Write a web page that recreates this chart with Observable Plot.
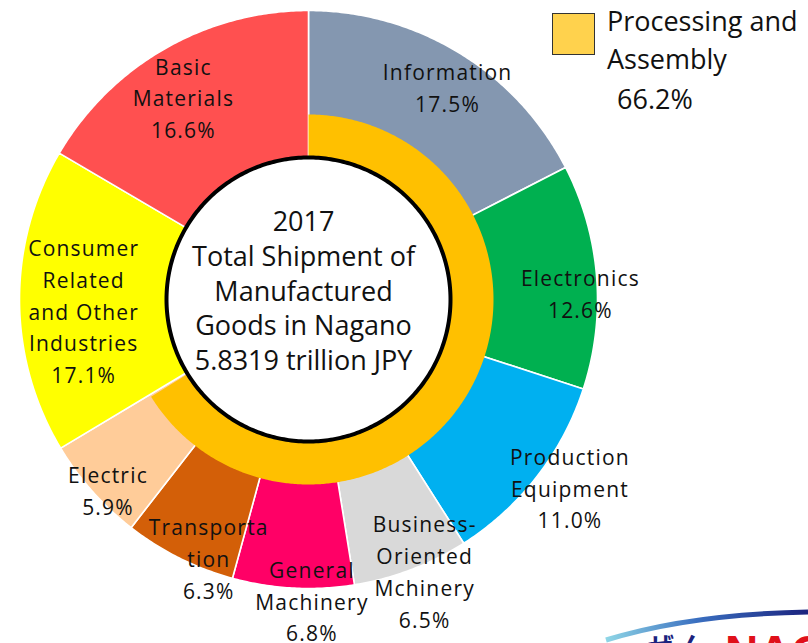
<!DOCTYPE html>
<html>
<head>
<meta charset="utf-8">
<script src="https://cdn.jsdelivr.net/npm/d3@7"></script>
<script src="https://cdn.jsdelivr.net/npm/@observablehq/plot@0.6"></script>
<style>
  html, body { margin: 0; padding: 0; background: #fff; }
  #wrap { position: relative; width: 808px; height: 643px; overflow: hidden; font-family: "Open Sans", sans-serif; }
  #legend { position: absolute; left: 0; top: 0; }
  .sw { position: absolute; left: 552px; top: 13px; width: 41px; height: 40px; background: #FFD24D; border: 1.5px solid #333; }
  .lt { position: absolute; font-size: 27px; line-height: 38px; color: #111; white-space: nowrap; }
  #logo { position: absolute; left: 600px; top: 590px; }
</style>
</head>
<body>
<div id="wrap">
  <div id="chart"></div>
  <div id="legend"></div>
  <svg id="logo" width="208" height="53"></svg>
</div>
<script>
// ---- data ----
const categories = ["Information", "Electronics", "Production Equipment", "Business-Oriented Mchinery",
  "General Machinery", "Transportation", "Electric", "Consumer Related and Other Industries", "Basic Materials"];
const shares = [17.5, 12.6, 11.0, 6.5, 6.8, 6.3, 5.9, 17.1, 16.6];
const labelLines = ["Information", "Electronics", "Production\nEquipment", "Business-\nOriented\nMchinery",
  "General\nMachinery", "Transporta\ntion", "Electric", "Consumer\nRelated\nand Other\nIndustries", "Basic\nMaterials"];
const colors = ["#8497B0", "#00B050", "#00B0F0", "#D9D9D9", "#FF0066", "#D35F08", "#FFCC99", "#FFFF00", "#FF5050"];
const processingName = "Processing and\nAssembly";
const processingShare = 66.2;
const centerLines = ["2017", "Total Shipment of", "Manufactured", "Goods in Nagano", "5.8319 trillion JPY"];

// ---- layout (pixels / fractions of outer radius) ----
const W = 808, H = 643, CX = 308, CY = 299, RPX = 289;
const R_OUT = 1, R_IN = 142 / 289, R_RING = 185 / 289;
// label placement: [radius factor, angular nudge in degrees]
const labelLayout = [[0.874, 2.0], [0.941, 3.5], [1.118, -1.8], [1.028, -2.2], [1.048, -3.7],
  [0.965, -5.6], [0.962, -2.3], [0.779, -3.0], [0.817, -2.2]];

const total = d3.sum(shares);
const toRad = d => d * Math.PI / 180;
function arcPts(a0, a1, r0, r1, key) {
  const pts = [];
  const n = Math.max(2, Math.ceil((a1 - a0) / 0.5));
  for (let i = 0; i <= n; i++) { const a = toRad(a0 + (a1 - a0) * i / n); pts.push({key, x: r1 * Math.sin(a), y: r1 * Math.cos(a)}); }
  for (let i = n; i >= 0; i--) { const a = toRad(a0 + (a1 - a0) * i / n); pts.push({key, x: r0 * Math.sin(a), y: r0 * Math.cos(a)}); }
  return pts;
}
let cum = 0;
const wedgePts = [], labels = [];
categories.forEach((c, i) => {
  const a0 = cum / total * 360; cum += shares[i]; const a1 = cum / total * 360;
  wedgePts.push(...arcPts(a0, a1, R_IN, R_OUT, c));
  const [rf, nudge] = labelLayout[i];
  const am = toRad((a0 + a1) / 2 + nudge);
  labels.push({x: rf * Math.sin(am), y: rf * Math.cos(am), text: labelLines[i] + "\n" + shares[i].toFixed(1) + "%"});
});
const ringPts = arcPts(0, processingShare / 100 * 360, R_IN, R_RING, "ring");
const circlePts = d3.range(0, 360, 1).map(a => ({x: R_IN * Math.sin(toRad(a)), y: R_IN * Math.cos(toRad(a))}));

const plot = Plot.plot({
  width: W, height: H, margin: 0,
  x: {domain: [-CX / RPX, (W - CX) / RPX], axis: null},
  y: {domain: [-(H - CY) / RPX, CY / RPX], axis: null},
  color: {domain: categories, range: colors},
  style: {fontFamily: "Open Sans, sans-serif", background: "white", overflow: "visible"},
  marks: [
    Plot.line(wedgePts, {x: "x", y: "y", z: "key", fill: "key", stroke: "white", strokeWidth: 1.6, curve: "linear-closed"}),
    Plot.line(ringPts, {x: "x", y: "y", fill: "#FFC000", stroke: "none", curve: "linear-closed"}),
    Plot.line(circlePts, {x: "x", y: "y", fill: "white", stroke: "black", strokeWidth: 4, curve: "linear-closed"}),
    Plot.text(labels, {x: "x", y: "y", text: "text", dy: -3, fontSize: 21, lineHeight: 1.52, fill: "#111"}),
    Plot.text([centerLines.join("\n")], {x: () => 0, y: () => 0, text: d => d, dx: -5, dy: -10, fontSize: 27, lineHeight: 1.28, fill: "#111"})
  ]
});
document.getElementById("chart").appendChild(plot);
const tg = plot.querySelectorAll('g[aria-label="text"]');
if (tg[0]) tg[0].setAttribute("letter-spacing", "1.2");

// legend
const lg = document.getElementById("legend");
lg.innerHTML = '<div class="sw"></div>' +
  processingName.split("\n").map((t, i) => `<div class="lt" style="left:607px;top:${2 + i * 38}px">${t}</div>`).join("") +
  `<div class="lt" style="left:617px;top:80px">${processingShare.toFixed(1)}%</div>`;

// logo fragment (bottom right)
const logo = d3.select("#logo");
const gr = logo.append("defs").append("linearGradient").attr("id", "lgd").attr("x1", "0").attr("x2", "1");
gr.append("stop").attr("offset", "0").attr("stop-color", "#8FD6E6");
gr.append("stop").attr("offset", "0.45").attr("stop-color", "#3A6FC0");
gr.append("stop").attr("offset", "1").attr("stop-color", "#1B237E");
logo.append("path").attr("d", "M6,50 Q90,24 208,22").attr("fill", "none").attr("stroke", "url(#lgd)").attr("stroke-width", 5);
logo.append("text").attr("x", 125).attr("y", 78).attr("font-family", "Liberation Sans, sans-serif").attr("font-weight", "bold").attr("font-size", 46).attr("fill", "#E0101A").text("NAGANO");
logo.append("text").attr("x", 48).attr("y", 66).attr("font-family", "Noto Sans CJK JP, sans-serif").attr("font-weight", "bold").attr("font-size", 26).attr("fill", "#1B237E").text("ぜ ん");
</script>
</body>
</html>
